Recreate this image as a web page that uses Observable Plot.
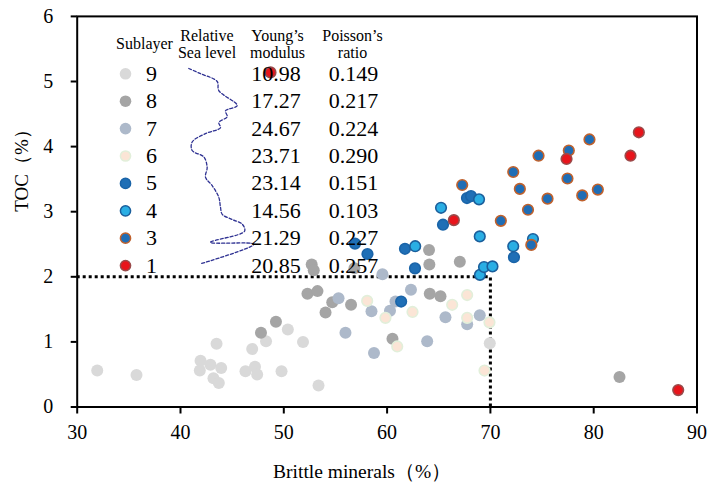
<!DOCTYPE html>
<html>
<head>
<meta charset="utf-8">
<script src="https://cdn.jsdelivr.net/npm/d3@7"></script>
<script src="https://cdn.jsdelivr.net/npm/@observablehq/plot@0.6"></script>
<style>
  body { margin: 0; background: #fff; }
  #chart { width: 709px; height: 482px; overflow: hidden; }
</style>
</head>
<body>
<div id="chart"></div>
<script>
// ---------- Data ----------
const sublayers = ["9", "8", "7", "6", "5", "4", "3", "1"];
const youngsModulus = ["10.98", "17.27", "24.67", "23.71", "23.14", "14.56", "21.29", "20.85"];
const poissonsRatio = ["0.149", "0.217", "0.224", "0.290", "0.151", "0.103", "0.227", "0.257"];

// [brittle minerals %, TOC %] for each sublayer
const layer9 = [[31.94,0.56],[35.74,0.49],[41.94,0.71],[41.87,0.56],[42.90,0.65],[43.49,0.97],[43.94,0.60],[43.19,0.44],[43.71,0.37],[46.29,0.55],[47.21,0.62],[47.42,0.50],[46.94,0.89],[48.28,1.01],[50.39,1.19],[49.78,0.55],[51.86,1.00],[53.36,0.33],[69.94,0.98]];
const layer8 = [[47.79,1.14],[49.24,1.31],[52.29,1.74],[53.26,1.78],[54.04,1.45],[54.69,1.61],[56.51,1.57],[52.70,2.19],[52.90,2.10],[56.84,2.13],[60.52,1.05],[64.13,1.74],[65.17,1.70],[64.06,2.41],[64.09,2.19],[67.04,2.23],[82.50,0.46]];
const layer7 = [[55.30,1.67],[59.55,2.04],[55.97,1.14],[58.49,1.47],[58.73,0.83],[60.28,1.48],[60.81,1.62],[62.31,1.80],[63.88,1.01],[65.65,1.38],[67.75,1.27],[68.97,1.41]];
const layer6 = [[58.07,1.63],[59.84,1.37],[60.98,0.93],[62.46,1.46],[66.30,1.57],[67.75,1.72],[67.75,1.37],[69.91,1.30],[69.43,0.56]];
const layer5 = [[56.89,2.51],[58.10,2.35],[61.36,1.62],[61.73,2.43],[62.70,2.13],[65.41,2.80],[67.73,3.21],[68.12,3.24],[72.28,2.30]];
const layer4 = [[62.72,2.47],[65.22,3.06],[68.90,3.19],[68.97,2.62],[68.99,2.03],[69.38,2.15],[70.20,2.16],[72.21,2.47],[74.12,2.58]];
const layer3 = [[67.27,3.41],[71.01,2.86],[72.21,3.61],[72.85,3.35],[73.64,3.03],[73.96,2.49],[74.66,3.86],[75.53,3.20],[77.59,3.94],[77.46,3.51],[78.89,3.25],[79.59,4.11],[80.40,3.34]];
const layer1 = [[48.71,5.14],[66.46,2.87],[77.37,3.81],[84.37,4.22],[83.56,3.86],[88.18,0.26]];
const layers = [layer9, layer8, layer7, layer6, layer5, layer4, layer3, layer1];

// relative sea level curve, traced in the chart's own coordinates
const seaLevelX = [40.80,41.94,43.55,43.71,45.49,44.36,44.52,43.71,43.87,42.42,41.13,41.13,42.26,42.58,42.42,43.07,43.71,43.87,44.04,45.00,45.97,46.20,42.90,47.10,41.94];
const seaLevelY = [5.20,5.12,5.00,4.86,4.63,4.55,4.46,4.37,4.29,4.20,4.07,3.94,3.84,3.68,3.53,3.40,3.22,3.07,2.96,2.88,2.81,2.70,2.53,2.50,2.20];

const brittleCutoff = 70;
const tocCutoff = 2;
const xTicks = [30, 40, 50, 60, 70, 80, 90];
const yTicks = [0, 1, 2, 3, 4, 5, 6];

// ---------- Styles ----------
const fillColors   = ["#d9d9d9", "#a5a5a5", "#adb9ca", "#fbe5d6", "#1f6fb6", "#2aaee4", "#1f6db5", "#e8141b"];
const strokeColors = ["none",    "none",    "none",    "#e2efda", "#1a64a8", "#1b5f9c", "#c0612c", "#9a4a4a"];

// ---------- Layout ----------
const W = 709, H = 482;
const mL = 76.7, mR = 12.5, mT = 15.9, mB = 75.5;
const xDom = [30, 90], yDom = [0, 6];
const xAt = p => xDom[0] + (p - mL) / (W - mL - mR) * (xDom[1] - xDom[0]);
const yAt = p => yDom[0] + (H - mB - p) / (H - mB - mT) * (yDom[1] - yDom[0]);

const points = layers.flatMap((pts, i) => pts.map(([x, y]) => ({x, y, i})));
const seaLevel = seaLevelX.map((x, k) => ({x, y: seaLevelY[k]}));
const legendRows = sublayers.map((s, i) => ({s, i, young: youngsModulus[i], poisson: poissonsRatio[i]}));
const rowY = r => yAt(73.3 + r.i * 27.4);

const serif = "Liberation Serif, Times New Roman, serif";

const chart = Plot.plot({
  width: W, height: H,
  marginLeft: mL, marginRight: mR, marginTop: mT, marginBottom: mB,
  x: {domain: xDom},
  y: {domain: yDom},
  r: {type: "identity"},
  style: {fontFamily: serif, background: "#fff", color: "#000", overflow: "visible"},
  marks: [
    Plot.ruleY([tocCutoff], {x1: xDom[0], x2: brittleCutoff, stroke: "#000", strokeWidth: 3, strokeDasharray: "3,3"}),
    Plot.ruleX([brittleCutoff], {y1: yDom[0], y2: tocCutoff, stroke: "#000", strokeWidth: 3, strokeDasharray: "3,3"}),
    Plot.dot(points, {
      x: "x", y: "y", r: d => strokeColors[d.i] === "none" ? 6 : 5.3,
      fill: d => fillColors[d.i], stroke: d => strokeColors[d.i], strokeWidth: 1.6
    }),
    Plot.line(seaLevel, {x: "x", y: "y", stroke: "#2e3192", strokeWidth: 1.3, strokeDasharray: "3,2", curve: "catmull-rom"}),
    // legend
    Plot.dot(legendRows, {
      x: () => xAt(125), y: rowY, r: d => strokeColors[d.i] === "none" ? 5.8 : 5.1,
      fill: d => fillColors[d.i], stroke: d => strokeColors[d.i], strokeWidth: 1.5
    }),
    Plot.text(legendRows, {x: () => xAt(151), y: rowY, text: "s", fontSize: 22, fill: "#000"}),
    Plot.text(legendRows, {x: () => xAt(275.5), y: rowY, text: "young", fontSize: 22, fill: "#000"}),
    Plot.text(legendRows, {x: () => xAt(353), y: rowY, text: "poisson", fontSize: 22, fill: "#000"}),
    Plot.text(["Sublayer"], {x: xAt(144), y: yAt(43), text: d => d, fontSize: 16, fill: "#000"}),
    Plot.text(["Relative\nSea level"], {x: xAt(206.5), y: yAt(43.5), text: d => d, fontSize: 16, lineHeight: 1.07, fill: "#000"}),
    Plot.text(["Young\u2019s\nmodulus"], {x: xAt(277), y: yAt(43.5), text: d => d, fontSize: 16, lineHeight: 1.07, fill: "#000"}),
    Plot.text(["Poisson\u2019s\nratio"], {x: xAt(352), y: yAt(43.5), text: d => d, fontSize: 16, lineHeight: 1.07, fill: "#000"}),
    // axes
    Plot.axisX({ticks: xTicks, tickFormat: "d", tickSize: 7, tickPadding: 11, fontSize: 20, strokeWidth: 2, label: null, fill: "#000"}),
    Plot.axisY({ticks: yTicks, tickFormat: "d", tickSize: 6, tickPadding: 18, fontSize: 20, strokeWidth: 2, label: null, fill: "#000"}),
    Plot.frame({stroke: "#000", strokeWidth: 2}),
    Plot.text(["TOC\uFF08%\uFF09"], {frameAnchor: "left", dx: -55, rotate: -90, text: d => d, fontSize: 19, fill: "#000"}),
    Plot.text(["Brittle minerals\uFF08%\uFF09"], {frameAnchor: "bottom", dx: -25, dy: 71, text: d => d, fontSize: 19.5, fill: "#000"})
  ]
});
document.getElementById("chart").appendChild(chart);
</script>
</body>
</html>
